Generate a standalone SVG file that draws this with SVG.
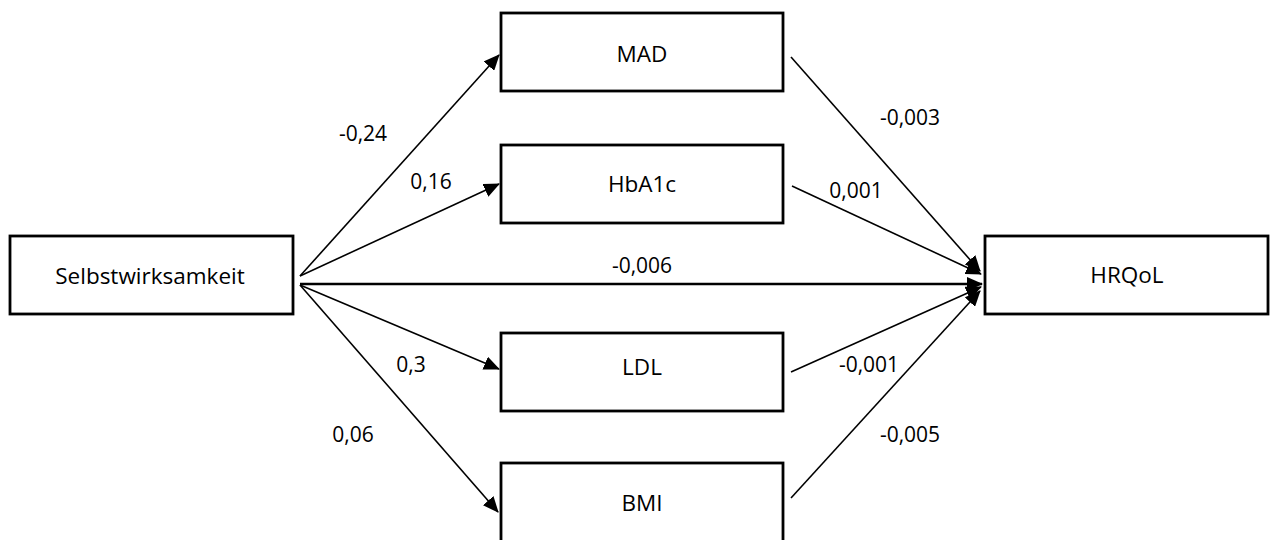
<svg xmlns="http://www.w3.org/2000/svg" width="1272" height="540" viewBox="0 0 1272 540">
<style>
.box{fill:#fff;stroke:#000;stroke-width:2.8}
.t{font-family:"Open Sans","Noto Sans",sans-serif;font-size:21px;fill:#000;text-anchor:middle}
.n{font-size:22.5px}
.c{stroke:#000;stroke-width:1.6;fill:none;marker-end:url(#ah)}
.h{stroke:#000;stroke-width:2.6;fill:none;marker-end:url(#ah)}
</style>
<defs>
<marker id="ah" markerUnits="userSpaceOnUse" markerWidth="16" markerHeight="14" refX="15" refY="7" orient="auto" viewBox="0 0 16 14">
<path d="M0,0 L16,7 L0,14 Z" fill="#000"/>
</marker>
</defs>
<rect width="1272" height="540" fill="#fff"/>
<g id="connectors">
<line class="c" x1="300" y1="276" x2="499" y2="55"/>
<line class="c" x1="300" y1="276" x2="499" y2="184"/>
<line class="h" x1="300" y1="284" x2="982" y2="284"/>
<line class="c" x1="300" y1="285" x2="499" y2="369"/>
<line class="c" x1="300" y1="285" x2="498" y2="512"/>
<line class="c" x1="791" y1="57" x2="980" y2="271"/>
<line class="c" x1="792" y1="186" x2="981" y2="274"/>
<line class="c" x1="791" y1="372" x2="981" y2="287"/>
<line class="c" x1="791" y1="498" x2="980" y2="291"/>
<text class="t" x="363" y="141">-0,24</text>
<text class="t" x="431" y="189">0,16</text>
<text class="t" x="642" y="273">-0,006</text>
<text class="t" x="411" y="372">0,3</text>
<text class="t" x="353" y="442">0,06</text>
<text class="t" x="910" y="125">-0,003</text>
<text class="t" x="856" y="198">0,001</text>
<text class="t" x="869" y="372">-0,001</text>
<text class="t" x="910" y="442">-0,005</text>
</g>
<g id="selbstwirksamkeit">
<rect class="box" x="10" y="236" width="283" height="78"/>
<text class="t n" x="150" y="284">Selbstwirksamkeit</text>
</g>
<g id="mad">
<rect class="box" x="501" y="13" width="282" height="78"/>
<text class="t n" x="642" y="62">MAD</text>
</g>
<g id="hba1c">
<rect class="box" x="501" y="145" width="282" height="78"/>
<text class="t n" x="642" y="192">HbA1c</text>
</g>
<g id="ldl">
<rect class="box" x="501" y="333" width="282" height="78"/>
<text class="t n" x="642" y="375">LDL</text>
</g>
<g id="bmi">
<rect class="box" x="501" y="463" width="282" height="90"/>
<text class="t n" x="642" y="511">BMI</text>
</g>
<g id="hrqol">
<rect class="box" x="985" y="236" width="283" height="78"/>
<text class="t n" x="1127" y="283">HRQoL</text>
</g>
</svg>
